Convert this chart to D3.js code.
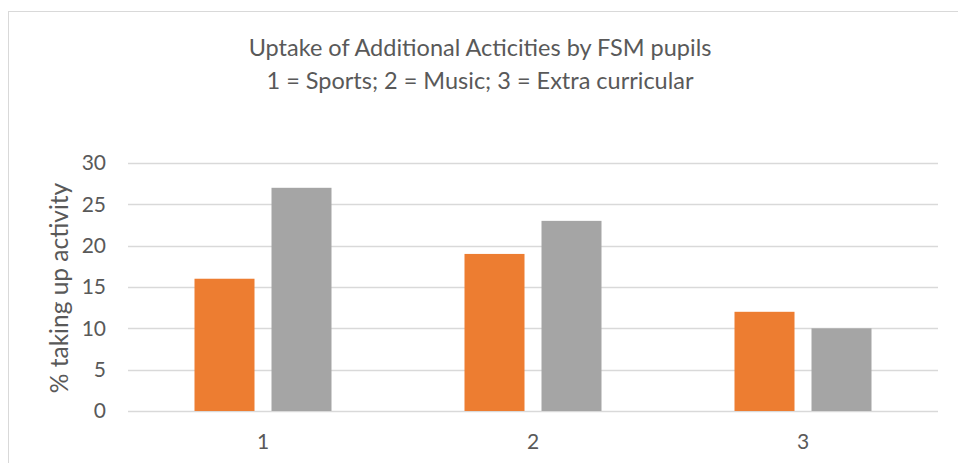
<!DOCTYPE html>
<html><head><meta charset="utf-8">
<script src="https://cdn.jsdelivr.net/npm/d3@7"></script>
<style>
html,body{margin:0;padding:0;background:#fff;}
svg{display:block;font-family:Lato,"Open Sans",sans-serif;}
</style></head>
<body><svg id="c" width="958" height="463"></svg>
<script>
const categories = ["1","2","3"];
const seriesA = [16, 19, 12];
const seriesB = [27, 23, 10];
const yTicks = [0,5,10,15,20,25,30];
const titleLines = ["Uptake of Additional Acticities by FSM pupils","1 = Sports; 2 = Music; 3 = Extra curricular"];
const yLabel = "% taking up activity";

(function(){
const svg = d3.select("#c");
svg.append("rect").attr("x",8.5).attr("y",11.5).attr("width",960).attr("height",470)
  .attr("fill","#fff").attr("stroke","#d9d9d9").attr("stroke-width",1);

const pLeft=128, pRight=938, pTop=163, pBottom=411;
const x = d3.scaleBand().domain(categories).range([pLeft,pRight]);
const y = d3.scaleLinear().domain([0,30]).range([pBottom,pTop]);

const g = svg.append("g");
g.selectAll("line.grid").data(yTicks).join("line")
  .attr("x1",pLeft).attr("x2",pRight).attr("y1",d=>Math.round(y(d))+0.5).attr("y2",d=>Math.round(y(d))+0.5)
  .attr("stroke","#d9d9d9").attr("stroke-width",1.3);

const barW=60, gap=17;
const series=[{v:seriesA,c:"#ED7D31",off:-(gap/2+barW)},{v:seriesB,c:"#A5A5A5",off:gap/2}];
series.forEach(s=>{
  g.selectAll(null).data(categories).join("rect")
    .attr("x",(d,i)=>x(d)+x.bandwidth()/2+s.off)
    .attr("y",(d,i)=>y(s.v[i]))
    .attr("width",barW)
    .attr("height",(d,i)=>y(0)-y(s.v[i]))
    .attr("fill",s.c);
});

const yAxis = d3.axisLeft(y).tickValues(yTicks).tickSize(0).tickPadding(0);
const ya = svg.append("g").attr("transform",`translate(106,0)`).call(yAxis);
ya.select(".domain").remove();
ya.selectAll("text").attr("fill","#595959").style("font-size","21px").style("font-family","Lato,'Open Sans',sans-serif");

const xAxis = d3.axisBottom(x).tickSize(0).tickPadding(0);
const xa = svg.append("g").attr("transform",`translate(0,${pBottom+23})`).call(xAxis);
xa.select(".domain").remove();
xa.selectAll("text").attr("fill","#595959").style("font-size","21px").style("font-family","Lato,'Open Sans',sans-serif");

svg.append("text").attr("transform","translate(68,288) rotate(-90)")
  .attr("text-anchor","middle").attr("fill","#595959").style("font-size","24.5px").text(yLabel);

svg.selectAll("text.title").data(titleLines).join("text").attr("class","title")
  .attr("x",480).attr("y",(d,i)=>56+i*33).attr("text-anchor","middle")
  .attr("fill","#595959").style("font-size","23.5px").text(d=>d);
})();
</script></body></html>
